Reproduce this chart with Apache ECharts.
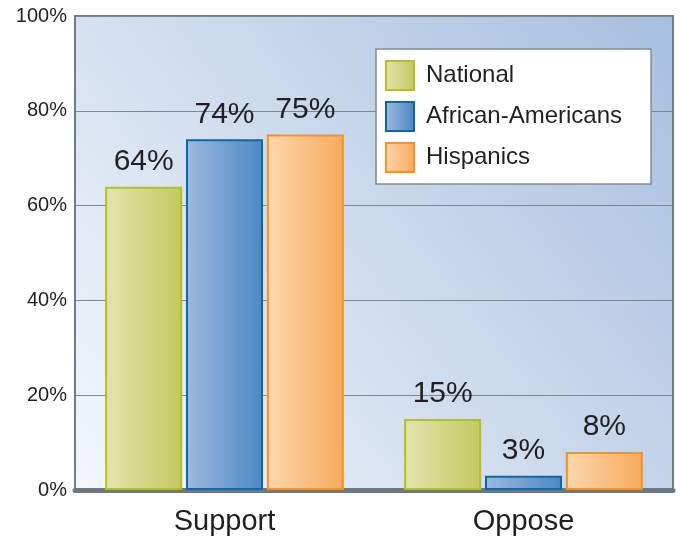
<!DOCTYPE html>
<html>
<head>
<meta charset="utf-8">
<script src="https://cdn.jsdelivr.net/npm/echarts@6/dist/echarts.min.js"></script>
<style>
html,body{margin:0;padding:0;background:#fff;}
#chart{width:680px;height:541px;}
</style>
</head>
<body>
<div id="chart"></div>
<script>
const categories = ['Support', 'Oppose'];
const seriesNames = ['National', 'African-Americans', 'Hispanics'];
const national = [64, 15];
const africanAmericans = [74, 3];
const hispanics = [75, 8];
const yTicks = [0, 20, 40, 60, 80, 100];

const FONT = '"Liberation Sans", Arial, Helvetica, sans-serif';
function grad(a, b) {
  return new echarts.graphic.LinearGradient(0, 0, 1, 0, [
    { offset: 0, color: a }, { offset: 1, color: b }
  ]);
}
const styles = [
  { fill: grad('#e2e5ae', '#c4c85f'), border: '#b4bf20' },
  { fill: grad('#9fb9de', '#4a88c3'), border: '#0e67a9' },
  { fill: grad('#fdd7af', '#f6aa5c'), border: '#f7911f' }
];
const values = [national, africanAmericans, hispanics];

const chart = echarts.init(document.getElementById('chart'), null, { renderer: 'canvas' });
chart.setOption({
  animation: false,
  textStyle: { fontFamily: FONT },
  grid: {
    left: 75, right: 7, top: 16, bottom: 51,
    show: true,
    backgroundColor: new echarts.graphic.LinearGradient(0, 1, 1, 0, [
      { offset: 0, color: '#f4f7fc' }, { offset: 1, color: '#a6bfdf' }
    ]),
    borderColor: '#6f7c85', borderWidth: 2
  },
  legend: {
    orient: 'vertical',
    left: 376, top: 49,
    data: seriesNames,
    icon: 'rect',
    itemWidth: 28, itemHeight: 29,
    itemGap: 10,
    padding: [11, 29, 11, 9],
    backgroundColor: '#ffffff',
    borderColor: '#7f8c95', borderWidth: 1.5,
    textStyle: { fontSize: 24, lineHeight: 29, color: '#231f20', fontFamily: FONT, padding: [0, 0, 0, 7] }
  },
  xAxis: {
    type: 'category',
    data: categories,
    axisLine: { show: true, lineStyle: { color: '#6c7981', width: 5 } },
    axisTick: { show: false },
    axisLabel: { fontSize: 29, color: '#231f20', margin: 17, fontFamily: FONT }
  },
  yAxis: {
    type: 'value',
    min: yTicks[0], max: yTicks[yTicks.length - 1], interval: 20,
    axisLine: { show: true, lineStyle: { color: '#6f7c85', width: 2 } },
    axisTick: { show: false },
    axisLabel: { fontSize: 20, color: '#231f20', margin: 8, formatter: '{value}%', fontFamily: FONT },
    splitLine: { show: true, lineStyle: { color: '#7b8891', width: 1.2 } }
  },
  series: seriesNames.map((name, i) => ({
    name: name,
    type: 'bar',
    data: values[i],
    barWidth: 77,
    barGap: '5%',
    itemStyle: { color: styles[i].fill, borderColor: styles[i].border, borderWidth: 2 },
    label: {
      show: true, position: 'top', distance: 10,
      formatter: '{c}%', fontSize: 30, color: '#231f20', fontFamily: FONT
    }
  }))
});
</script>
</body>
</html>
